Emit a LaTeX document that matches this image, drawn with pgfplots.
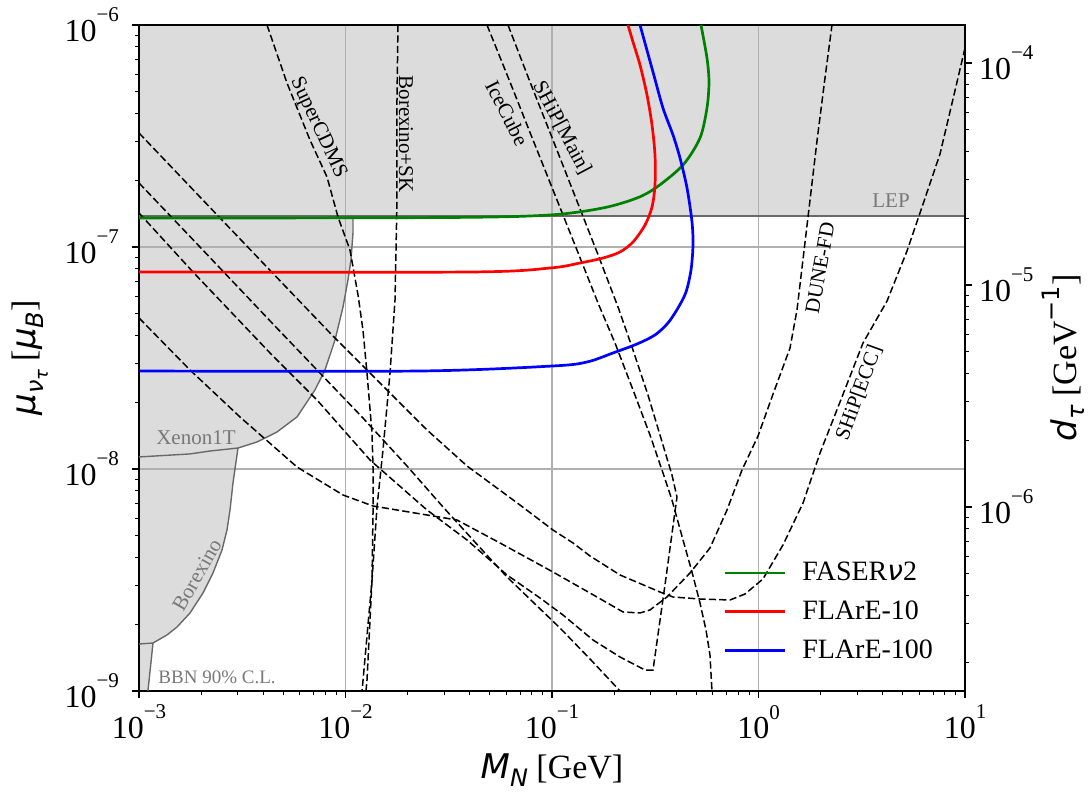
\documentclass[border=0pt]{standalone}
\usepackage{pgfplots}
\pgfplotsset{compat=1.18}
\usepackage{fontspec}
\setmainfont{Liberation Serif}
\newfontfamily\djsans{DejaVu Sans}
\usetikzlibrary{calc}
\definecolor{shade}{RGB}{220,220,220}
\definecolor{edgegray}{RGB}{105,105,105}
\definecolor{txtgray}{RGB}{120,120,120}
\definecolor{gridgray}{RGB}{176,176,176}
\definecolor{mplgreen}{RGB}{0,128,0}
\newcommand{\mi}[1]{{\djsans\itshape #1}}
\newcommand{\tsup}[1]{10\raisebox{0.62em}{\fontsize{10.5}{11}\selectfont #1}}
\newcommand{\lsub}[1]{\raisebox{-0.22em}{\fontsize{12}{12}\selectfont #1}}
\pgfplotsset{
  dcurve/.style={black, line width=0.75pt, dash pattern=on 3.6pt off 1.6pt, forget plot},
}
\tikzset{annot/.style={font=\fontsize{10.5}{12}\selectfont, anchor=center}}
\begin{document}
\begin{tikzpicture}
\begin{axis}[
  set layers, clip mode=individual,
  scale only axis, width=413pt, height=333pt,
  xmode=log, ymode=log,
  xmin=1e-3, xmax=10, ymin=1e-9, ymax=1e-6,
  xtick={1e-3,1e-2,1e-1,1,10},
  xticklabels={\tsup{−3},\tsup{−2},\tsup{−1},\tsup{0},\tsup{1}},
  ytick={1e-9,1e-8,1e-7,1e-6},
  yticklabels={\tsup{−9},\tsup{−8},\tsup{−7},\tsup{−6}},
  minor xtick={2e-3,3e-3,4e-3,5e-3,6e-3,7e-3,8e-3,9e-3,2e-2,3e-2,4e-2,5e-2,6e-2,7e-2,8e-2,9e-2,0.2,0.3,0.4,0.5,0.6,0.7,0.8,0.9,2,3,4,5,6,7,8,9},
  minor ytick={2e-9,3e-9,4e-9,5e-9,6e-9,7e-9,8e-9,9e-9,2e-8,3e-8,4e-8,5e-8,6e-8,7e-8,8e-8,9e-8,2e-7,3e-7,4e-7,5e-7,6e-7,7e-7,8e-7,9e-7},
  xtick pos=left, ytick pos=left,
  tick align=outside,
  major tick length=3.5pt, minor tick length=2pt,
  major tick style={black, line width=0.7pt},
  minor tick style={black, line width=0.5pt},
  xmajorgrids, ymajorgrids,
  major grid style={gridgray, line width=0.6pt},
  axis line style={line width=0.8pt},
  tick label style={font=\fontsize{16}{19}\selectfont},
  yticklabel style={xshift=-3pt},
  xlabel={\mi{M}\lsub{\mi{N}} [GeV]},
  ylabel={\mi{μ}\lsub{\mi{ν}\raisebox{-0.2em}{\fontsize{9}{9}\selectfont\mi{τ}}} [\mi{μ}\lsub{\mi{B}}]},
  xlabel style={at={(axis description cs:0.5,-0.1186)}, anchor=center, font=\fontsize{17}{20}\selectfont},
  ylabel style={at={(axis description cs:-0.132,0.5)}, anchor=center, font=\fontsize{17}{20}\selectfont},
  legend style={at={(rel axis cs:0.70,0.206)}, anchor=north west, draw=none, fill=none,
    font=\fontsize{14}{17}\selectfont, row sep=4.6pt},
  legend cell align=left,
  legend image code/.code={\draw[#1, line width=1.35pt] (0pt,0pt) -- (30pt,0pt); \path (36pt,0pt);},
]
\coordinate (SW) at (rel axis cs:0,0);
\coordinate (NE) at (rel axis cs:1,1);
% shaded excluded region (LEP, Xenon1T, Borexino, BBN)
\addplot[fill=shade, draw=none, on layer=axis background, forget plot] coordinates {
(1e-3,1e-6) (10,1e-6) (10,1.379e-7) (1.087e-2,1.379e-7) (1.087e-2,1.156e-7) (1.063e-2,8.737e-8)
(1.028e-2,7.10e-8) (9.725e-3,5.366e-8) (8.896e-3,3.812e-8) (7.956e-3,2.792e-8) (7.117e-3,2.27e-8)
(5.823e-3,1.715e-8) (4.659e-3,1.468e-8) (3.728e-3,1.323e-8) (3.016e-3,1.243e-8) (2.852e-3,8.65e-9)
(2.759e-3,6.535e-9) (2.668e-3,5.311e-9) (2.523e-3,4.316e-9) (2.282e-3,3.401e-9) (2.041e-3,2.763e-9)
(1.766e-3,2.246e-9) (1.528e-3,1.942e-9) (1.366e-3,1.788e-9) (1.169e-3,1.645e-9) (1.105e-3,1e-9) (1e-3,1e-9)};
% edges
\addplot[edgegray, line width=0.85pt, forget plot] coordinates {(1e-3,1.379e-7) (10,1.379e-7)};
\addplot[edgegray, line width=0.7pt, forget plot] coordinates {
(1e-3,1.133e-8) (1.766e-3,1.169e-8) (2.207e-3,1.205e-8) (3.016e-3,1.243e-8) (3.728e-3,1.323e-8)
(4.659e-3,1.468e-8) (5.823e-3,1.715e-8) (7.117e-3,2.27e-8) (7.956e-3,2.792e-8) (8.896e-3,3.812e-8)
(9.725e-3,5.366e-8) (1.028e-2,7.10e-8) (1.063e-2,8.737e-8) (1.087e-2,1.156e-7) (1.087e-2,1.379e-7)};
\addplot[edgegray, line width=0.7pt, forget plot] coordinates {
(3.016e-3,1.243e-8) (2.852e-3,8.65e-9) (2.759e-3,6.535e-9) (2.668e-3,5.311e-9) (2.523e-3,4.316e-9)
(2.282e-3,3.401e-9) (2.041e-3,2.763e-9) (1.766e-3,2.246e-9) (1.528e-3,1.942e-9) (1.366e-3,1.788e-9)
(1.169e-3,1.645e-9) (1e-3,1.628e-9)};
\addplot[edgegray, line width=0.7pt, forget plot] coordinates {(1.169e-3,1.645e-9) (1.105e-3,1e-9)};
% SHiP[ECC]
\addplot[dcurve] coordinates {
(1e-3,3.262e-7) (1.974e-3,1.680e-7) (3.986e-3,8.47e-8) (8.413e-3,4.10e-8) (1.314e-2,2.706e-8)
(2.482e-2,1.499e-8) (3.876e-2,1.032e-8) (6.998e-2,6.883e-9) (0.1011,5.311e-9) (0.1264,4.642e-9)
(0.1528,4.057e-9) (0.2135,3.331e-9) (0.3334,2.792e-9) (0.3855,2.651e-9) (0.5208,2.596e-9)
(0.7278,2.570e-9) (0.8603,2.735e-9) (1.051,3.195e-9) (1.314,4.547e-9) (1.643,7.027e-9)
(1.986,1.181e-8) (2.482,2.004e-8) (3.207,3.694e-8) (4.193,5.712e-8) (5.237,9.594e-8)
(6.055,1.423e-7) (7.568,2.624e-7) (8.749,4.642e-7) (10,7.879e-7)};
% lower curve leaving at bottom
\addplot[dcurve] coordinates {
(1e-3,1.942e-7) (1.974e-3,1e-7) (4.455e-3,4.50e-8) (7.278e-3,2.792e-8) (1.215e-2,1.697e-8)
(1.985e-2,1.032e-8) (2.967e-2,6.743e-9) (4.144e-2,4.79e-9) (6.055e-2,3.262e-9) (0.1093,1.922e-9)
(0.1528,1.394e-9) (0.2135,1e-9)};
% SHiP[Main]
\addplot[dcurve] coordinates {
(1e-3,1.423e-7) (1.826e-3,7.716e-8) (4.31e-3,3.331e-8) (7.278e-3,2.046e-8) (1.314e-2,1.098e-8)
(2.482e-2,6.535e-9) (3.876e-2,4.79e-9) (6.055e-2,3.331e-9) (8.749e-2,2.624e-9) (0.1131,2.199e-9)
(0.158,1.697e-9) (0.2135,1.423e-9) (0.2821,1.243e-9) (0.3084,1.243e-9) (0.3525,3.002e-9)
(0.4029,7.48e-9) (0.3811,9.398e-9) (0.3447,1.283e-8) (0.2916,2.154e-8) (0.2468,3.436e-8)
(0.2088,5.366e-8) (0.1651,9.495e-8) (0.1292,1.697e-7) (0.1011,3.034e-7) (7.826e-2,5.537e-7) (6.122e-2,1e-6)};
% IceCube
\addplot[dcurve] coordinates {
(4.844e-2,1e-6) (6.26e-2,5.537e-7) (8.091e-2,3.034e-7) (0.1034,1.715e-7) (0.1321,9.694e-8)
(0.167,5.594e-8) (0.2019,3.694e-8) (0.2468,2.27e-8) (0.2982,1.423e-8) (0.3409,9.897e-9)
(0.3811,7.25e-9) (0.431,4.79e-9) (0.4764,3.436e-9) (0.5208,2.491e-9) (0.5569,1.883e-9)
(0.5821,1.453e-9) (0.5952,1e-9)};
% DUNE-FD
\addplot[dcurve] coordinates {
(1e-3,4.79e-8) (1.766e-3,2.792e-8) (3.084e-3,1.715e-8) (5.823e-3,1.021e-8) (9.725e-3,7.637e-9)
(1.359e-2,6.813e-9) (2.482e-2,6.205e-9) (3.467e-2,5.892e-9) (5.6e-2,4.642e-9) (0.1011,3.436e-9)
(0.1651,2.651e-9) (0.2207,2.27e-9) (0.2668,2.246e-9) (0.2982,2.317e-9) (0.3604,2.651e-9)
(0.4659,3.401e-9) (0.5821,4.406e-9) (0.7039,6.535e-9) (0.8318,9.897e-9) (0.9945,1.408e-8)
(1.176,2.176e-8) (1.421,3.508e-8) (1.536,5.202e-8) (1.624,8.04e-8) (1.737,1.365e-7)
(1.92,3.002e-7) (2.099,5.772e-7) (2.269,1e-6)};
% SuperCDMS
\addplot[dcurve] coordinates {
(4.167e-3,1e-6) (5.208e-3,5.48e-7) (6.73e-3,3.034e-7) (8.136e-3,2.067e-7) (9.198e-3,1.365e-7)
(1.051e-2,9.694e-8) (1.15e-2,6.077e-8) (1.215e-2,4.227e-8) (1.271e-2,2.706e-8) (1.344e-2,1.453e-8)
(1.359e-2,1.021e-8) (1.359e-2,6.335e-9) (1.344e-2,3.162e-9) (1.271e-2,1.121e-9) (1.257e-2,1e-9)};
% Borexino+SK
\addplot[dcurve] coordinates {
(1.795e-2,1e-6) (1.776e-2,4.594e-7) (1.776e-2,1.628e-7) (1.737e-2,5.772e-8) (1.643e-2,2.706e-8)
(1.519e-2,1.218e-8) (1.421e-2,6.743e-9) (1.344e-2,3.162e-9) (1.203e-2,1e-9)};
% FASERnu2
\addplot[mplgreen, line width=1.35pt, smooth, tension=0.5] coordinates {
(1e-3,1.35e-7) (3.207e-2,1.358e-7) (9.77e-2,1.394e-7) (0.1766,1.499e-7) (0.2579,1.662e-7)
(0.3225,1.864e-7) (0.431,2.341e-7) (0.5208,3.097e-7) (0.563,4.227e-7) (0.5757,5.537e-7)
(0.563,7.10e-7) (0.5266,1e-6)};
\addlegendentry{FASER\mi{ν}2}
% FLArE-10
\addplot[red, line width=1.35pt, smooth, tension=0.5] coordinates {
(1e-3,7.716e-8) (4.008e-2,7.716e-8) (9.77e-2,8.04e-8) (0.1366,8.47e-8) (0.1766,8.92e-8)
(0.2135,9.495e-8) (0.2468,1.053e-7) (0.2821,1.256e-7) (0.305,1.514e-7) (0.3153,1.902e-7)
(0.3153,2.596e-7) (0.305,3.543e-7) (0.2884,4.84e-7) (0.2668,6.60e-7) (0.2468,8.38e-7) (0.2333,1e-6)};
\addlegendentry{FLArE-10}
% FLArE-100
\addplot[blue, line width=1.35pt, smooth, tension=0.5] coordinates {
(1e-3,2.763e-8) (2.295e-2,2.763e-8) (0.1011,2.911e-8) (0.1477,3.034e-8) (0.1974,3.331e-8)
(0.2579,3.656e-8) (0.3153,4.015e-8) (0.3645,4.547e-8) (0.4074,5.311e-8) (0.4456,6.27e-8)
(0.4712,7.879e-8) (0.4817,1.021e-7) (0.4764,1.296e-7) (0.4506,1.845e-7) (0.4167,2.517e-7)
(0.3855,3.195e-7) (0.3447,4.227e-7) (0.3084,6.14e-7) (0.2668,1e-6)};
\addlegendentry{FLArE-100}
% labels
\node[annot, rotate=-65] at (axis cs:7.36e-3,3.436e-7) {SuperCDMS};
\node[annot, rotate=-90] at (axis cs:1.963e-2,3.228e-7) {Borexino+SK};
\node[annot, rotate=-63] at (axis cs:6.055e-2,4.015e-7) {IceCube};
\node[annot, rotate=-62] at (axis cs:0.1118,3.436e-7) {SHiP[Main]};
\node[annot, rotate=80] at (axis cs:1.986,8.04e-8) {DUNE-FD};
\node[annot, rotate=70] at (axis cs:3.067,2.199e-8) {SHiP[ECC]};
\node[annot, text=txtgray] at (axis cs:4.382,1.612e-7) {LEP};
\node[annot, text=txtgray] at (axis cs:1.888e-3,1.379e-8) {Xenon1T};
\node[annot, text=txtgray, rotate=60] at (axis cs:1.909e-3,3.331e-9) {Borexino};
\node[annot, text=txtgray, font=\fontsize{9.5}{11}\selectfont] at (axis cs:2.387e-3,1.156e-9) {BBN 90\% C.L.};
\end{axis}
\begin{axis}[
  scale only axis, width=413pt, height=333pt,
  xmode=log, ymode=log, xmin=1e-3, xmax=10,
  ymin=1.482e-7, ymax=1.482e-4,
  axis x line=none, axis y line*=right,
  ytick={1e-6,1e-5,1e-4},
  yticklabels={\tsup{−6},\tsup{−5},\tsup{−4}},
  minor ytick={2e-7,3e-7,4e-7,5e-7,6e-7,7e-7,8e-7,9e-7,2e-6,3e-6,4e-6,5e-6,6e-6,7e-6,8e-6,9e-6,2e-5,3e-5,4e-5,5e-5,6e-5,7e-5,8e-5,9e-5},
  tick align=outside,
  major tick length=3.5pt, minor tick length=2pt,
  major tick style={black, line width=0.7pt},
  minor tick style={black, line width=0.5pt},
  axis line style={line width=0.8pt},
  tick label style={font=\fontsize{16}{19}\selectfont},
  ylabel={\mi{d}\lsub{\mi{τ}} [GeV\raisebox{0.5em}{\fontsize{12}{12}\djsans −1}]},
  ylabel style={at={(axis description cs:1.119,0.5)}, anchor=center, font=\fontsize{17}{20}\selectfont},
]
\addplot[draw=none, forget plot] coordinates {(1,1e-6)};
\end{axis}
\pgfresetboundingbox
\path ($(SW)+(-69.5pt,-52.5pt)$) rectangle ($(NE)+(63.5pt,12.5pt)$);
\end{tikzpicture}
\end{document}
